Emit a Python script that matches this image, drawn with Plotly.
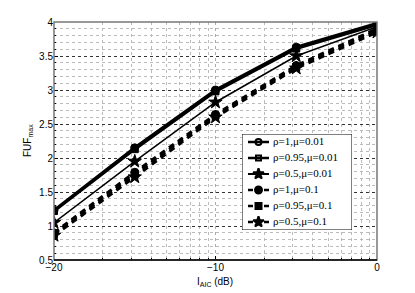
import numpy as np
import plotly.graph_objects as go

x_db = [-20, -15, -10, -5, 0]
names = ["ρ=1,μ=0.01", "ρ=0.95,μ=0.01", "ρ=0.5,μ=0.01",
         "ρ=1,μ=0.1", "ρ=0.95,μ=0.1", "ρ=0.5,μ=0.1"]
y_r1_m001 = [1.23, 2.15, 3.00, 3.63, 3.98]
y_r095_m001 = [1.22, 2.13, 2.98, 3.61, 3.96]
y_r05_m001 = [1.05, 1.95, 2.82, 3.50, 3.93]
y_r1_m01 = [0.90, 1.79, 2.64, 3.36, 3.90]
y_r095_m01 = [0.88, 1.76, 2.62, 3.34, 3.88]
y_r05_m01 = [0.86, 1.72, 2.60, 3.32, 3.85]
series = [y_r1_m001, y_r095_m001, y_r05_m001, y_r1_m01, y_r095_m01, y_r05_m01]

xticks = [-20, -10, 0]
xticklabels = ["\u221220", "\u221210", "0"]
yticks = [0.5, 1, 1.5, 2, 2.5, 3, 3.5, 4]
yticklabels = ["0.5", "1", "1.5", "2", "2.5", "3", "3.5", "4"]

styles = [
    dict(width=3, dash="solid", symbol="circle", size=8),
    dict(width=3, dash="solid", symbol="square", size=7),
    dict(width=1.5, dash="solid", symbol="star", size=10),
    dict(width=3, dash="6px,5px", symbol="circle", size=8),
    dict(width=3, dash="6px,5px", symbol="square", size=7),
    dict(width=3, dash="6px,5px", symbol="star", size=10),
]
leg_styles = [
    dict(width=2.5, dash="solid", symbol="circle-open", size=6),
    dict(width=2.5, dash="solid", symbol="square-open", size=5),
    dict(width=2, dash="solid", symbol="star", size=8),
    dict(width=2.5, dash="5px,11px,5px", symbol="circle", size=7),
    dict(width=2.5, dash="5px,11px,5px", symbol="square", size=6),
    dict(width=2.5, dash="5px,11px,5px", symbol="star", size=8),
]

fig = go.Figure()
for nm, ys, st in zip(names, series, styles):
    fig.add_trace(go.Scatter(
        x=x_db, y=ys, name=nm, mode="lines+markers", showlegend=False,
        line=dict(color="black", width=st["width"], dash=st["dash"]),
        marker=dict(symbol=st["symbol"], size=st["size"], color="black",
                    line=dict(color="black", width=1)),
        xaxis="x", yaxis="y",
    ))

# compact legend drawn in its own small subplot
row_y = [8, 24, 40, 56, 72, 88]
for nm, ry, st in zip(names, row_y, leg_styles):
    fig.add_trace(go.Scatter(
        x=[6, 27], y=[ry, ry], mode="lines", showlegend=False, hoverinfo="skip",
        line=dict(color="black", width=st["width"], dash=st["dash"]),
        xaxis="x2", yaxis="y2",
    ))
    fig.add_trace(go.Scatter(
        x=[16.5], y=[ry], mode="markers", showlegend=False, hoverinfo="skip",
        marker=dict(symbol=st["symbol"], size=st["size"], color="black",
                    line=dict(color="black", width=2)),
        xaxis="x2", yaxis="y2",
    ))
fig.add_trace(go.Scatter(
    x=[31] * len(names), y=row_y, mode="text", text=names,
    textposition="middle right", showlegend=False, hoverinfo="skip",
    textfont=dict(family="Liberation Serif, Times New Roman", size=11, color="black"),
    xaxis="x2", yaxis="y2"))

# log-like minor grid positions (as MATLAB drew them)
minor_x = []
for base in [-20, -10]:
    for k in range(2, 10):
        minor_x.append(base + 10 * np.log10(k))

# target pixel positions in the 415x293 window; page body has an 8px margin
OFF = 8
PL, PR, PT, PB = 54, 377, 22, 260
W, H = 415, 293
lx0, lx1, ly0, ly1 = 242, 352, 134, 230

fig.update_layout(
    width=W - OFF, height=H - OFF,
    margin=dict(l=PL - OFF, r=W - PR, t=PT - OFF, b=H - PB, autoexpand=False),
    paper_bgcolor="white", plot_bgcolor="white",
    font=dict(family="Liberation Sans, Arial", size=10, color="black"),
    showlegend=False,
    xaxis=dict(
        domain=[0, 1], anchor="y", automargin=False,
        range=[-20, 0], tickmode="array", tickvals=xticks, ticktext=xticklabels,
        ticks="inside", ticklen=4, tickcolor="black",
        showgrid=True, gridcolor="#aaaaaa", griddash="dot", gridwidth=1,
        minor=dict(tickvals=minor_x, showgrid=True, gridcolor="#bbbbbb",
                   griddash="dot", gridwidth=1, ticks="inside", ticklen=2,
                   tickcolor="black"),
        zeroline=False, showline=False,
    ),
    yaxis=dict(
        domain=[0, 1], anchor="x", automargin=False,
        range=[0.5, 4], tickmode="array", tickvals=yticks, ticktext=yticklabels,
        ticks="inside", ticklen=4, tickcolor="black",
        showgrid=True, gridcolor="#333333", griddash="dot", gridwidth=1,
        minor=dict(dtick=0.1, tick0=0.5, showgrid=True, gridcolor="#bbbbbb",
                   griddash="dot", gridwidth=1, ticks="inside", ticklen=2,
                   tickcolor="black"),
        zeroline=False, showline=False,
    ),
    xaxis2=dict(
        domain=[(lx0 - PL) / (PR - PL), (lx1 - PL) / (PR - PL)], anchor="y2",
        range=[0, lx1 - lx0], visible=False, fixedrange=True,
    ),
    yaxis2=dict(
        domain=[(PB - ly1) / (PB - PT), (PB - ly0) / (PB - PT)], anchor="x2",
        range=[ly1 - ly0, 0], visible=False, fixedrange=True,
    ),
    annotations=[
        dict(text="I<sub>AIC</sub> (dB)", xref="paper", yref="paper",
             x=(215 - PL) / (PR - PL), y=-(282 - PB) / (PB - PT),
             xanchor="center", yanchor="middle", showarrow=False,
             font=dict(size=10)),
        dict(text="FUF<sub>max</sub>", xref="paper", yref="paper",
             x=-(PL - 28) / (PR - PL), y=0.5, textangle=-90,
             xanchor="center", yanchor="middle", showarrow=False,
             font=dict(size=10)),
    ],
    shapes=[
        dict(type="rect", xref="x2", yref="y2", x0=0, y0=0,
             x1=lx1 - lx0, y1=ly1 - ly0,
             line=dict(color="black", width=1), fillcolor="white", layer="below"),
        dict(type="rect", xref="paper", yref="paper", x0=0, y0=0, x1=1, y1=1,
             line=dict(color="#777777", width=1.5), fillcolor="rgba(0,0,0,0)",
             layer="above"),
        dict(type="line", xref="paper", yref="paper", x0=0, y0=0, x1=1, y1=0,
             line=dict(color="black", width=1.5), layer="above"),
    ],
)

fig.write_html("out.html")
